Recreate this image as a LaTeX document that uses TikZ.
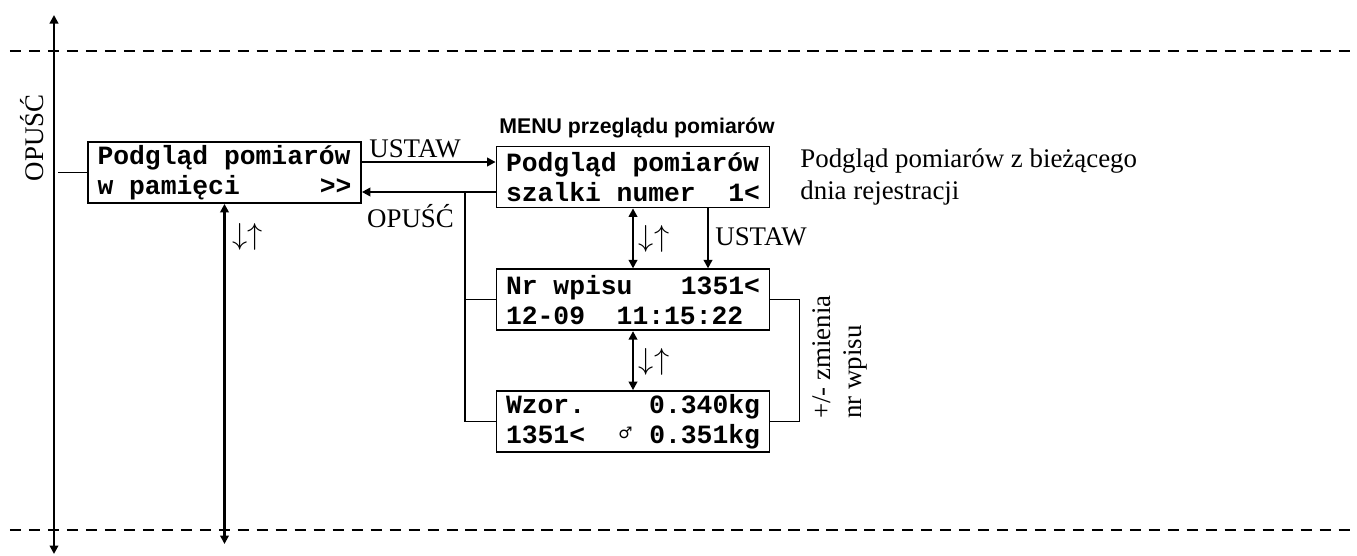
\documentclass[tikz,border=0pt]{standalone}
\usepackage{fontspec}
\setmainfont{Liberation Serif}
\setsansfont{Liberation Sans}
\setmonofont{Liberation Mono}
\newfontfamily\symfont{DejaVu Sans}
\usetikzlibrary{arrows.meta,positioning,calc}
\newcommand{\lcdfont}{\ttfamily\bfseries\fontsize{15}{17}\selectfont}
\newcommand{\ch}{\hspace*{0.6em}}% one character cell
\tikzset{
  lcd/.style={draw,line width=1pt,text width=5.08cm,inner xsep=0.19cm,inner ysep=0pt,
    minimum height=1.22cm,align=left,font=\lcdfont},
  lbl/.style={inner sep=0pt,font=\fontsize{15.3}{17.8}\selectfont},
  flow/.style={->,line width=1.2pt},
  both/.style={<->,line width=1.2pt},
  link/.style={line width=0.8pt},
  border/.style={line width=1.1pt,dash pattern=on 6.5pt off 4.3pt},
}
\newcommand{\updown}{{\fontsize{18}{18}\selectfont$\downarrow\uparrow$}}
\begin{document}
\begin{tikzpicture}[>={Triangle[length=1.7mm,width=1.7mm]}]
  \useasboundingbox (0,0) rectangle (27.14,11.1);
  % menu level borders
  \draw[border] (0.2,10.08) -- (27.14,10.08);
  \draw[border] (0.2,0.5) -- (27.14,0.5);
  % main axis
  \coordinate (axtop) at (1.08,10.8);
  \coordinate (axbot) at (1.08,0.02);
  \draw[both,line width=1.4pt] (axbot) -- (axtop);
  \node[lbl,rotate=90,anchor=base] (quit) at (0.86,8.34) {OPUŚĆ};
  % screens
  \node[lcd] (mem) at (4.49,7.65) {Podgląd\ch pomiarów\\w\ch pamięci\hfill>>};
  \node[lcd] (menu) at (12.66,7.56) {Podgląd\ch pomiarów\\szalki\ch numer\hfill1<};
  \node[lcd,below=1.2cm of menu] (entry) {Nr\ch wpisu\hfill1351<\\12-09\ch\ch11:15:22};
  \node[lcd,below=1.18cm of entry] (weigh) {Wzor.\hfill0.340kg\\1351<\hfill
    \makebox[0.6em]{\raisebox{0.35ex}{\symfont\mdseries\fontsize{9}{9}\selectfont ♂}}\ch0.351kg};
  % menu title and description
  \node[font=\sffamily\bfseries\fontsize{12.1}{14}\selectfont,inner sep=0pt,anchor=base] (title) at (12.74,8.44) {MENU przeglądu pomiarów};
  \node[lbl,align=left,anchor=west] (desc) at (16.0,7.56) {Podgląd pomiarów z bieżącego\\dnia rejestracji};
  % connection to main axis
  \draw[link] (mem.west) -- ++(-0.58,0);
  % USTAW / OPUŚĆ between mem and menu
  \coordinate (set) at (8.3,7.86);
  \coordinate (split) at (9.3,7.26);
  \draw[flow] (mem.east |- set) -- (menu.west |- set);
  \draw[flow] (menu.west |- split) -- (mem.east |- split);
  \node[lbl,anchor=base] (setlbl) at (8.3,7.96) {USTAW};
  \node[lbl,anchor=base] (quitlbl) at (8.21,6.56) {OPUŚĆ};
  % OPUŚĆ from the lower screens
  \draw[link] (split) |- (weigh.west);
  \draw[link] (split |- entry.west) -- (entry.west);
  % scrolling
  \coordinate (bot) at (0,0.22);
  \draw[both] (mem.south) -- (mem.south |- bot);
  \node[lbl] (scr1) at (4.95,6.37) {\updown};
  \draw[both] (menu.south) -- (entry.north);
  \node[lbl] (scr2) at (13.08,6.33) {\updown};
  \draw[flow] ([xshift=1.5cm]menu.south) -- ([xshift=1.5cm]entry.north);
  \node[lbl,anchor=west] (setlbl2) at (14.3,6.36) {USTAW};
  \draw[both] (entry.south) -- (weigh.north);
  \node[lbl] (scr3) at (13.08,3.87) {\updown};
  % +/- changes entry
  \draw[link] (entry.east) -- ++(0.58,0) |- (weigh.east);
  \node[lbl,rotate=90,align=left] (plusminus) at (16.8,3.96) {+/- zmienia\\nr wpisu};
\end{tikzpicture}
\end{document}
